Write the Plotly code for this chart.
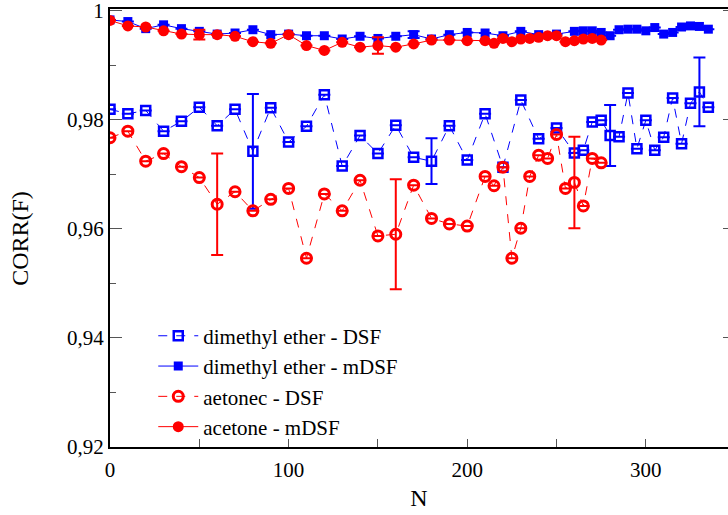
import plotly.graph_objects as go

# ---- data ----
N_dme = [0,10,20,30,40,50,60,70,80,90,100,110,120,130,140,150,160,170,180,190,200,210,220,230,240,250,
         260,265,270,275,280,285,290,295,300,305,310,315,320,325,330,335]
dme_dsf = [0.9819,0.9811,0.9817,0.9779,0.9797,0.9823,0.9789,0.9819,0.9742,0.9822,0.9759,0.9788,0.9846,
           0.9715,0.9771,0.9738,0.9790,0.9731,0.9724,0.9789,0.9726,0.9811,0.9713,0.9836,0.9765,0.9785,
           0.9739,0.9744,0.9796,0.9799,0.9771,0.9769,0.9849,0.9747,0.9799,0.9744,0.9768,0.9840,0.9756,
           0.9830,0.9851,0.9823]
dme_dsf_err = [None]*8 + [0.0105] + [None]*9 + [0.0042] + [None]*11 + [0.0056] + [None]*9 + [0.0063, None]
dme_mdsf = [0.9983,0.9980,0.9967,0.9974,0.9967,0.9962,0.9957,0.9959,0.9965,0.9956,0.9957,0.9954,0.9954,
            0.9948,0.9953,0.9949,0.9953,0.9956,0.9948,0.9956,0.9960,0.9959,0.9954,0.9962,0.9956,0.9957,
            0.9962,0.9963,0.9963,0.9960,0.9954,0.9965,0.9966,0.9966,0.9963,0.9969,0.9957,0.9960,0.9970,
            0.9972,0.9971,0.9966]
dme_mdsf_err = [None]*17 + [0.0006] + [None]*24

N_ac = [0,10,20,30,40,50,60,70,80,90,100,110,120,130,140,150,160,170,180,190,200,210,215,220,225,230,235,
        240,245,250,255,260,265,270,275]
ac_dsf = [0.9767,0.9779,0.9724,0.9738,0.9714,0.9694,0.9645,0.9668,0.9633,0.9654,0.9674,0.9546,0.9664,
          0.9633,0.9689,0.9587,0.9590,0.9680,0.9619,0.9609,0.9605,0.9696,0.9679,0.9713,0.9546,0.9601,
          0.9696,0.9735,0.9729,0.9773,0.9674,0.9685,0.9642,0.9729,0.9721]
ac_dsf_err = [None]*6 + [0.0093] + [None]*9 + [0.0101] + [None]*14 + [0.0084] + [None]*3
ac_mdsf = [0.9982,0.9972,0.9970,0.9963,0.9957,0.9956,0.9956,0.9953,0.9943,0.9940,0.9956,0.9936,0.9927,
           0.9942,0.9933,0.9936,0.9933,0.9939,0.9946,0.9946,0.9945,0.9945,0.9940,0.9949,0.9943,0.9948,
           0.9949,0.9951,0.9954,0.9954,0.9943,0.9945,0.9948,0.9949,0.9946]
ac_mdsf_err = [None]*5 + [0.0009] + [None]*9 + [0.0015] + [None]*19

y_tickvals = [0.92, 0.94, 0.96, 0.98, 1.0]
y_ticktext = ["0,92", "0,94", "0,96", "0,98", "1"]
x_tickvals = [0, 100, 200, 300]

BLUE = "#0000ff"
RED = "#ff0000"
FONT = "Liberation Serif, Times New Roman, Times, serif"

fig = go.Figure()

fig.add_trace(go.Scatter(
    x=N_dme, y=dme_dsf, name="dimethyl ether - DSF", mode="lines+markers",
    line=dict(color=BLUE, width=1, dash="dash"),
    marker=dict(symbol="square-open", size=9, color=BLUE, line=dict(width=2.5, color=BLUE)),
    error_y=dict(type="data", array=dme_dsf_err, color=BLUE, thickness=2, width=6, visible=True)))
fig.add_trace(go.Scatter(
    x=N_dme, y=dme_mdsf, name="dimethyl ether - mDSF", mode="lines+markers",
    line=dict(color=BLUE, width=1),
    marker=dict(symbol="square", size=9, color=BLUE),
    error_y=dict(type="data", array=dme_mdsf_err, color=BLUE, thickness=2, width=6, visible=True)))
fig.add_trace(go.Scatter(
    x=N_ac, y=ac_dsf, name="aetonec - DSF", mode="lines+markers",
    line=dict(color=RED, width=1, dash="dash"),
    marker=dict(symbol="circle-open", size=10, color=RED, line=dict(width=3, color=RED)),
    error_y=dict(type="data", array=ac_dsf_err, color=RED, thickness=2, width=6, visible=True)))
fig.add_trace(go.Scatter(
    x=N_ac, y=ac_mdsf, name="acetone - mDSF", mode="lines+markers",
    line=dict(color=RED, width=1),
    marker=dict(symbol="circle", size=11, color=RED),
    error_y=dict(type="data", array=ac_mdsf_err, color=RED, thickness=2, width=6, visible=True)))

# invisible trace to carry right-side ticks
fig.add_trace(go.Scatter(x=[None], y=[None], yaxis="y2", showlegend=False, hoverinfo="skip"))

fig.update_layout(
    width=728, height=515,
    margin=dict(l=110, r=0, t=9, b=68),
    paper_bgcolor="white", plot_bgcolor="white",
    font=dict(family=FONT, size=21, color="black"),
    showlegend=True,
    legend=dict(x=0.07, y=0.30, xanchor="left", yanchor="top",
                bgcolor="rgba(0,0,0,0)", font=dict(family=FONT, size=21),
                tracegroupgap=0, itemwidth=40),
    xaxis=dict(range=[0, 346], tickvals=x_tickvals, ticks="inside", ticklen=8,
               tickcolor="#555", showline=True, linecolor="black", linewidth=2, mirror=True,
               showgrid=False, zeroline=False, ticklabelstandoff=3,
               minor=dict(dtick=50, tick0=0, ticks="inside", ticklen=8, tickcolor="#555"),
               title=dict(text="N", font=dict(family=FONT, size=24), standoff=8),
               tickfont=dict(family=FONT, size=21)),
    yaxis=dict(range=[0.92, 1.0003], tickvals=y_tickvals, ticktext=y_ticktext, ticks="inside",
               ticklen=12, tickcolor="#555", showline=True, linecolor="black", linewidth=2,
               mirror=False, showgrid=False, zeroline=False, ticklabeloverflow="allow",
               minor=dict(dtick=0.01, tick0=0.92, ticks="inside", ticklen=6, tickcolor="#555"),
               tickfont=dict(family=FONT, size=21)),
    yaxis2=dict(range=[0.92, 1.0003], overlaying="y", side="right", tickvals=y_tickvals,
                showticklabels=False, ticks="inside", ticklen=5, tickcolor="#555",
                showline=False, showgrid=False, zeroline=False),
    annotations=[dict(text="CORR(F)", textangle=-90, xref="paper", yref="paper",
                      x=-0.146, y=0.477, xanchor="center", yanchor="middle", showarrow=False,
                      font=dict(family=FONT, size=24, color="black"))],
)

fig.write_html("out.html")
